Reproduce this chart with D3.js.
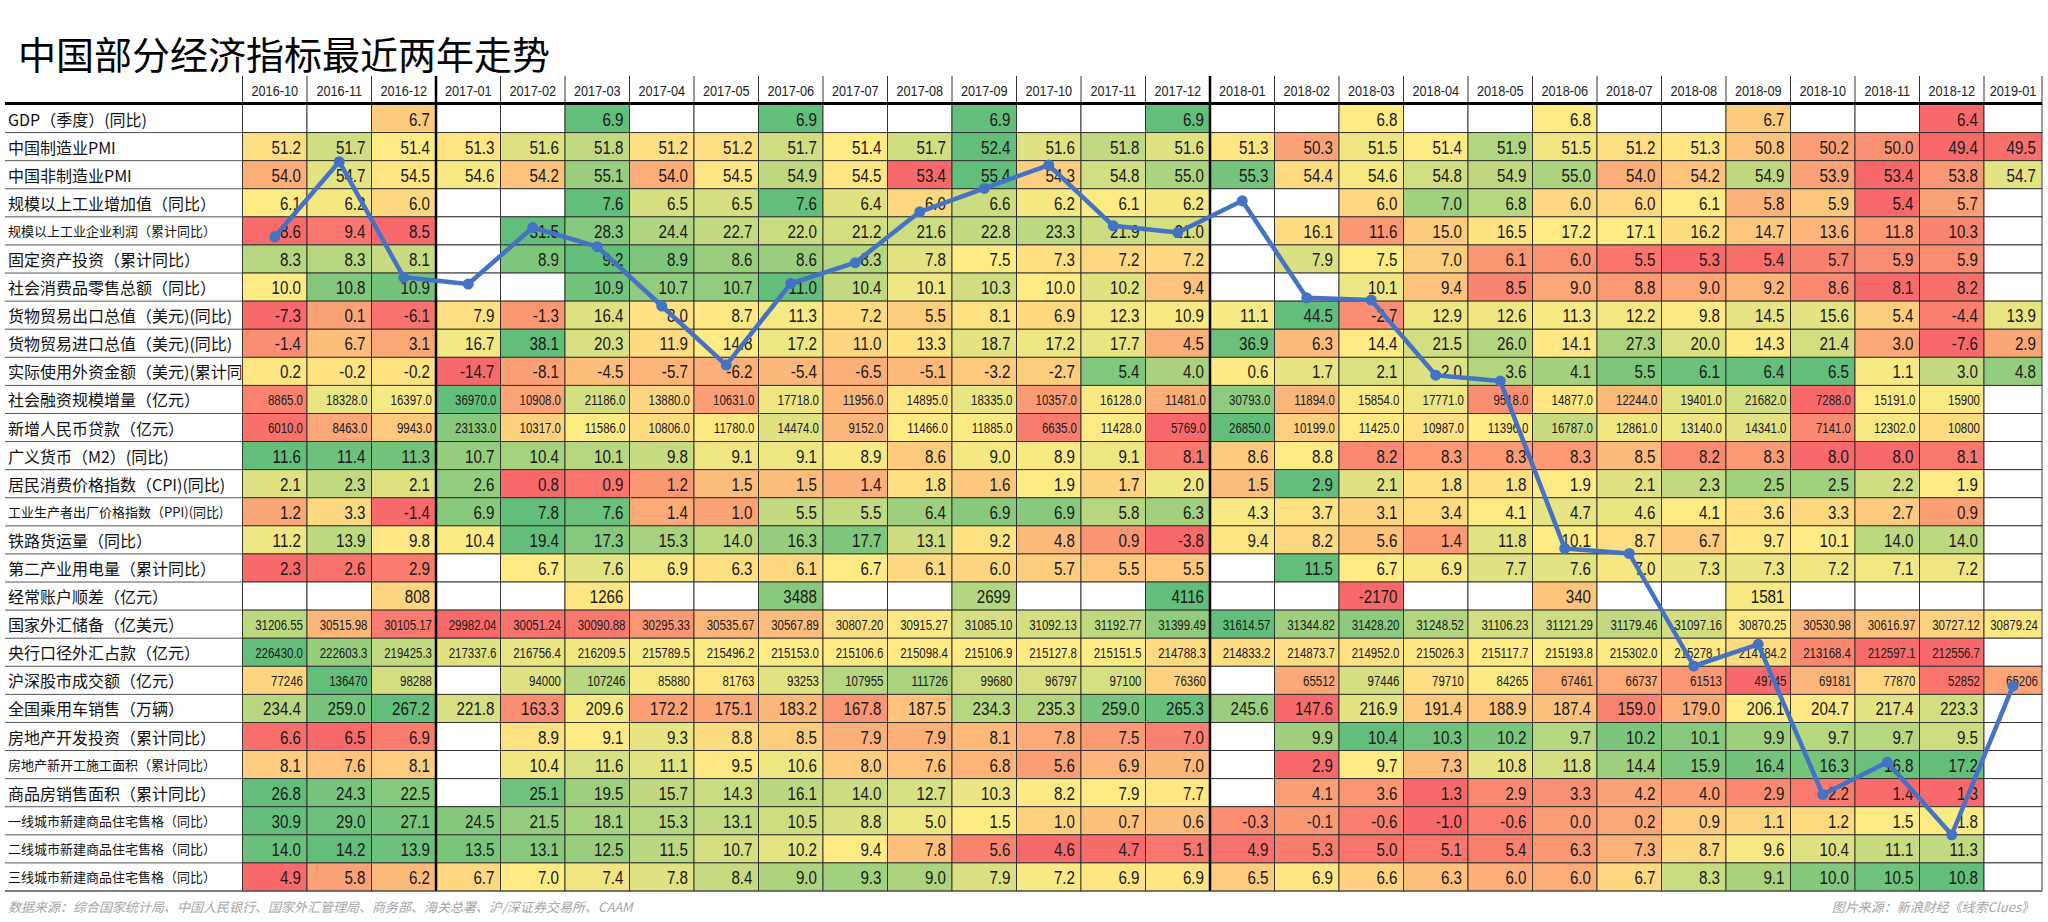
<!DOCTYPE html>
<html>
<head>
<meta charset="utf-8">
<script src="https://cdn.jsdelivr.net/npm/d3@7"></script>
<style>
body { margin: 0; background: #fff; }
svg { display: block; }
</style>
</head>
<body>
<div id="chart"></div>
<script>
// 月份（列）
var months = ["2016-10","2016-11","2016-12","2017-01","2017-02","2017-03","2017-04","2017-05","2017-06","2017-07","2017-08","2017-09","2017-10","2017-11","2017-12",
  "2018-01","2018-02","2018-03","2018-04","2018-05","2018-06","2018-07","2018-08","2018-09","2018-10","2018-11","2018-12","2019-01"];

// 指标（行）
var labels = ["GDP（季度）(同比)","中国制造业PMI","中国非制造业PMI","规模以上工业增加值（同比）","规模以上工业企业利润（累计同比）",
  "固定资产投资（累计同比）","社会消费品零售总额（同比）","货物贸易出口总值（美元)(同比)","货物贸易进口总值（美元)(同比)",
  "实际使用外资金额（美元)(累计同比)","社会融资规模增量（亿元）","新增人民币贷款（亿元）","广义货币（M2）(同比)",
  "居民消费价格指数（CPI)(同比)","工业生产者出厂价格指数（PPI)(同比)","铁路货运量（同比）","第二产业用电量（累计同比）",
  "经常账户顺差（亿元）","国家外汇储备（亿美元）","央行口径外汇占款（亿元）","沪深股市成交额（亿元）","全国乘用车销售（万辆）",
  "房地产开发投资（累计同比）","房地产新开工施工面积（累计同比）","商品房销售面积（累计同比）",
  "一线城市新建商品住宅售格（同比）","二线城市新建商品住宅售格（同比）","三线城市新建商品住宅售格（同比）"];

var smallLabelRows = [4, 14, 23, 25, 26, 27];
var bigNumberRows = [10, 11, 18, 19, 20];

var _ = null;
var gdp      = [_,_,"6.7",_,_,"6.9",_,_,"6.9",_,_,"6.9",_,_,"6.9",_,_,"6.8",_,_,"6.8",_,_,"6.7",_,_,"6.4",_];
var pmi      = ["51.2","51.7","51.4","51.3","51.6","51.8","51.2","51.2","51.7","51.4","51.7","52.4","51.6","51.8","51.6","51.3","50.3","51.5","51.4","51.9","51.5","51.2","51.3","50.8","50.2","50.0","49.4","49.5"];
var nonPmi   = ["54.0","54.7","54.5","54.6","54.2","55.1","54.0","54.5","54.9","54.5","53.4","55.4","54.3","54.8","55.0","55.3","54.4","54.6","54.8","54.9","55.0","54.0","54.2","54.9","53.9","53.4","53.8","54.7"];
var indAdd   = ["6.1","6.2","6.0",_,_,"7.6","6.5","6.5","7.6","6.4","6.0","6.6","6.2","6.1","6.2",_,_,"6.0","7.0","6.8","6.0","6.0","6.1","5.8","5.9","5.4","5.7",_];
var profit   = ["8.6","9.4","8.5",_,"31.5","28.3","24.4","22.7","22.0","21.2","21.6","22.8","23.3","21.9","21.0",_,"16.1","11.6","15.0","16.5","17.2","17.1","16.2","14.7","13.6","11.8","10.3",_];
var fai      = ["8.3","8.3","8.1",_,"8.9","9.2","8.9","8.6","8.6","8.3","7.8","7.5","7.3","7.2","7.2",_,"7.9","7.5","7.0","6.1","6.0","5.5","5.3","5.4","5.7","5.9","5.9",_];
var retail   = ["10.0","10.8","10.9",_,_,"10.9","10.7","10.7","11.0","10.4","10.1","10.3","10.0","10.2","9.4",_,_,"10.1","9.4","8.5","9.0","8.8","9.0","9.2","8.6","8.1","8.2",_];
var exportYoy= ["-7.3","0.1","-6.1","7.9","-1.3","16.4","8.0","8.7","11.3","7.2","5.5","8.1","6.9","12.3","10.9","11.1","44.5","-2.7","12.9","12.6","11.3","12.2","9.8","14.5","15.6","5.4","-4.4","13.9"];
var importYoy= ["-1.4","6.7","3.1","16.7","38.1","20.3","11.9","14.8","17.2","11.0","13.3","18.7","17.2","17.7","4.5","36.9","6.3","14.4","21.5","26.0","14.1","27.3","20.0","14.3","21.4","3.0","-7.6","2.9"];
var fdi      = ["0.2","-0.2","-0.2","-14.7","-8.1","-4.5","-5.7","-6.2","-5.4","-6.5","-5.1","-3.2","-2.7","5.4","4.0","0.6","1.7","2.1","2.0","3.6","4.1","5.5","6.1","6.4","6.5","1.1","3.0","4.8"];
var tsf      = ["8865.0","18328.0","16397.0","36970.0","10908.0","21186.0","13880.0","10631.0","17718.0","11956.0","14895.0","18335.0","10357.0","16128.0","11481.0","30793.0","11894.0","15854.0","17771.0","9518.0","14877.0","12244.0","19401.0","21682.0","7288.0","15191.0","15900",_];
var loans    = ["6010.0","8463.0","9943.0","23133.0","10317.0","11586.0","10806.0","11780.0","14474.0","9152.0","11466.0","11885.0","6635.0","11428.0","5769.0","26850.0","10199.0","11425.0","10987.0","11396.0","16787.0","12861.0","13140.0","14341.0","7141.0","12302.0","10800",_];
var m2       = ["11.6","11.4","11.3","10.7","10.4","10.1","9.8","9.1","9.1","8.9","8.6","9.0","8.9","9.1","8.1","8.6","8.8","8.2","8.3","8.3","8.3","8.5","8.2","8.3","8.0","8.0","8.1",_];
var cpi      = ["2.1","2.3","2.1","2.6","0.8","0.9","1.2","1.5","1.5","1.4","1.8","1.6","1.9","1.7","2.0","1.5","2.9","2.1","1.8","1.8","1.9","2.1","2.3","2.5","2.5","2.2","1.9",_];
var ppi      = ["1.2","3.3","-1.4","6.9","7.8","7.6","1.4","1.0","5.5","5.5","6.4","6.9","6.9","5.8","6.3","4.3","3.7","3.1","3.4","4.1","4.7","4.6","4.1","3.6","3.3","2.7","0.9",_];
var rail     = ["11.2","13.9","9.8","10.4","19.4","17.3","15.3","14.0","16.3","17.7","13.1","9.2","4.8","0.9","-3.8","9.4","8.2","5.6","1.4","11.8","10.1","8.7","6.7","9.7","10.1","14.0","14.0",_];
var power2   = ["2.3","2.6","2.9",_,"6.7","7.6","6.9","6.3","6.1","6.7","6.1","6.0","5.7","5.5","5.5",_,"11.5","6.7","6.9","7.7","7.6","7.0","7.3","7.3","7.2","7.1","7.2",_];
var current  = [_,_,"808",_,_,"1266",_,_,"3488",_,_,"2699",_,_,"4116",_,_,"-2170",_,_,"340",_,_,"1581",_,_,_,_];
var fxReserve= ["31206.55","30515.98","30105.17","29982.04","30051.24","30090.88","30295.33","30535.67","30567.89","30807.20","30915.27","31085.10","31092.13","31192.77","31399.49","31614.57","31344.82","31428.20","31248.52","31106.23","31121.29","31179.46","31097.16","30870.25","30530.98","30616.97","30727.12","30879.24"];
var fxPboc   = ["226430.0","222603.3","219425.3","217337.6","216756.4","216209.5","215789.5","215496.2","215153.0","215106.6","215098.4","215106.9","215127.8","215151.5","214788.3","214833.2","214873.7","214952.0","215026.3","215117.7","215193.8","215302.0","215278.1","214784.2","213168.4","212597.1","212556.7",_];
var turnover = ["77246","136470","98288",_,"94000","107246","85880","81763","93253","107955","111726","99680","96797","97100","76360",_,"65512","97446","79710","84265","67461","66737","61513","49745","69181","77870","52852","65206"];
var cars     = ["234.4","259.0","267.2","221.8","163.3","209.6","172.2","175.1","183.2","167.8","187.5","234.3","235.3","259.0","265.3","245.6","147.6","216.9","191.4","188.9","187.4","159.0","179.0","206.1","204.7","217.4","223.3",_];
var reInvest = ["6.6","6.5","6.9",_,"8.9","9.1","9.3","8.8","8.5","7.9","7.9","8.1","7.8","7.5","7.0",_,"9.9","10.4","10.3","10.2","9.7","10.2","10.1","9.9","9.7","9.7","9.5",_];
var reStarts = ["8.1","7.6","8.1",_,"10.4","11.6","11.1","9.5","10.6","8.0","7.6","6.8","5.6","6.9","7.0",_,"2.9","9.7","7.3","10.8","11.8","14.4","15.9","16.4","16.3","16.8","17.2",_];
var reSales  = ["26.8","24.3","22.5",_,"25.1","19.5","15.7","14.3","16.1","14.0","12.7","10.3","8.2","7.9","7.7",_,"4.1","3.6","1.3","2.9","3.3","4.2","4.0","2.9","2.2","1.4","1.3",_];
var tier1    = ["30.9","29.0","27.1","24.5","21.5","18.1","15.3","13.1","10.5","8.8","5.0","1.5","1.0","0.7","0.6","-0.3","-0.1","-0.6","-1.0","-0.6","0.0","0.2","0.9","1.1","1.2","1.5","1.8",_];
var tier2    = ["14.0","14.2","13.9","13.5","13.1","12.5","11.5","10.7","10.2","9.4","7.8","5.6","4.6","4.7","5.1","4.9","5.3","5.0","5.1","5.4","6.3","7.3","8.7","9.6","10.4","11.1","11.3",_];
var tier3    = ["4.9","5.8","6.2","6.7","7.0","7.4","7.8","8.4","9.0","9.3","9.0","7.9","7.2","6.9","6.9","6.5","6.9","6.6","6.3","6.0","6.0","6.7","8.3","9.1","10.0","10.5","10.8",_];

var table = [gdp,pmi,nonPmi,indAdd,profit,fai,retail,exportYoy,importYoy,fdi,tsf,loans,m2,cpi,ppi,rail,power2,
  current,fxReserve,fxPboc,turnover,cars,reInvest,reStarts,reSales,tier1,tier2,tier3];

// 蓝色折线（以行为单位的位置）
var trend = [4.74,2.07,6.18,6.42,4.41,5.09,7.20,9.30,6.40,5.66,3.85,3.02,2.19,4.35,4.59,
  3.46,6.91,6.99,9.66,9.87,15.82,16.0,20.0,19.23,24.57,23.42,26.0,20.71];

var w = 2048, h = 922;
var tLeft = 242.5, tRight = 2042, tTop = 104.5, tBottom = 891;
var narrow = 0.82; // 模拟窄体数字
var numFont = '"Liberation Sans",Arial,sans-serif';
var cjkFont = '"Noto Sans CJK SC","Noto Sans",sans-serif';

var svg = d3.select("#chart").append("svg").attr("width", w).attr("height", h)
  .style("background", "#fff");

var x = d3.scaleBand().domain(months).range([tLeft, tLeft + 64.5 * months.length]);
var y = d3.scaleBand().domain(d3.range(labels.length)).range([tTop, tBottom]);
var yTrend = d3.scaleLinear().domain([0, labels.length]).range([tTop - 1, tBottom]);

function colW(m) { return Math.min(x.bandwidth(), tRight - x(m)); }

// 标题
svg.append("text").attr("x", 18).attr("y", 52).attr("dominant-baseline", "central")
  .style("font-family", cjkFont).style("font-size", "38px").style("fill", "#000")
  .text("中国部分经济指标最近两年走势");

// 表头
var head = svg.append("g");
head.selectAll("line").data(months).enter().append("line")
  .attr("x1", function(d) { return x(d); }).attr("x2", function(d) { return x(d); })
  .attr("y1", 76).attr("y2", tTop).style("stroke", "#333").style("stroke-width", 1);
head.append("line").attr("x1", tRight).attr("x2", tRight).attr("y1", 76).attr("y2", tTop)
  .style("stroke", "#333");
head.selectAll("text").data(months).enter().append("text")
  .attr("transform", function(d) {
    return "translate(" + (x(d) + colW(d) / 2) + ",91) scale(" + narrow + ",1)";
  })
  .attr("text-anchor", "middle").attr("dominant-baseline", "central")
  .style("font-family", numFont).style("font-size", "15.5px").style("fill", "#222")
  .text(function(d) { return d; });

// 每行的颜色（红-黄-绿三色刻度）
var colorScales = table.map(function(row) {
  var v = row.filter(function(d) { return d != null; }).map(Number).sort(d3.ascending);
  return d3.scaleLinear()
    .domain([v[0], d3.quantile(v, 0.5), v[v.length - 1]])
    .range(["#F8696B", "#FFEB84", "#63BE7B"]);
});

var cells = [];
table.forEach(function(row, i) {
  row.forEach(function(d, j) { cells.push({ r: i, m: months[j], v: d }); });
});

var body = svg.append("g");
body.selectAll("rect").data(cells).enter().append("rect")
  .attr("x", function(d) { return x(d.m); })
  .attr("y", function(d) { return y(d.r); })
  .attr("width", function(d) { return colW(d.m); })
  .attr("height", y.bandwidth())
  .style("fill", function(d) { return d.v == null ? "#fff" : colorScales[d.r](+d.v); })
  .style("stroke", "#2b2b2b").style("stroke-width", 0.9);

body.selectAll("text").data(cells.filter(function(d) { return d.v != null; })).enter().append("text")
  .attr("transform", function(d) {
    var big = bigNumberRows.indexOf(d.r) >= 0;
    return "translate(" + (x(d.m) + colW(d.m) - (big ? 4 : 6)) + "," +
      (y(d.r) + y.bandwidth() / 2 + 1) + ") scale(" + narrow + ",1)";
  })
  .attr("text-anchor", "end").attr("dominant-baseline", "central")
  .style("font-family", numFont)
  .style("font-size", function(d) { return bigNumberRows.indexOf(d.r) >= 0 ? "14px" : "18.5px"; })
  .style("fill", "#1a1a1a")
  .text(function(d) { return d.v; });

// 行标签
svg.append("clipPath").attr("id", "labclip").append("rect")
  .attr("x", 0).attr("y", tTop).attr("width", tLeft - 1).attr("height", tBottom - tTop);
var lab = svg.append("g");
lab.selectAll("line").data(d3.range(labels.length + 1)).enter().append("line")
  .attr("x1", 5).attr("x2", tLeft)
  .attr("y1", function(d) { return tTop + d * y.step(); })
  .attr("y2", function(d) { return tTop + d * y.step(); })
  .style("stroke", "#555").style("stroke-width", 1);
lab.append("g").attr("clip-path", "url(#labclip)")
  .selectAll("text").data(labels).enter().append("text")
  .attr("x", 8).attr("y", function(d, i) { return y(i) + y.bandwidth() / 2; })
  .attr("dominant-baseline", "central")
  .style("font-family", cjkFont)
  .style("font-size", function(d, i) { return smallLabelRows.indexOf(i) >= 0 ? "13px" : "16px"; })
  .style("fill", "#111")
  .text(function(d) { return d; });

// 粗线：表头下方与年份分隔
svg.append("line").attr("x1", 5).attr("x2", tRight).attr("y1", tTop - 1).attr("y2", tTop - 1)
  .style("stroke", "#000").style("stroke-width", 3);
svg.selectAll(".yearline").data(["2017-01", "2018-01"]).enter().append("line")
  .attr("class", "yearline")
  .attr("x1", function(d) { return x(d); }).attr("x2", function(d) { return x(d); })
  .attr("y1", 76).attr("y2", tBottom)
  .style("stroke", "#000").style("stroke-width", 2.5);
svg.append("line").attr("x1", 5).attr("x2", tRight).attr("y1", tBottom).attr("y2", tBottom)
  .style("stroke", "#555").style("stroke-width", 1);

// 折线
var pts = trend.map(function(v, i) { return [x(months[i]) + colW(months[i]) / 2, yTrend(v)]; });
svg.append("path").datum(pts)
  .attr("d", d3.line())
  .style("fill", "none").style("stroke", "#4472C4").style("stroke-width", 4.5)
  .style("stroke-linejoin", "round");
svg.selectAll(".dot").data(pts).enter().append("circle").attr("class", "dot")
  .attr("cx", function(d) { return d[0]; }).attr("cy", function(d) { return d[1]; })
  .attr("r", 5.5).style("fill", "#4472C4");

// 脚注
svg.append("text").attr("x", 8).attr("y", 906).attr("dominant-baseline", "central")
  .style("font-family", cjkFont).style("font-size", "13px").style("font-style", "italic")
  .style("fill", "#a6a6a6")
  .text("数据来源：综合国家统计局、中国人民银行、国家外汇管理局、商务部、海关总署、沪/深证券交易所、CAAM");
svg.append("text").attr("x", 2034).attr("y", 906).attr("dominant-baseline", "central")
  .attr("text-anchor", "end")
  .style("font-family", cjkFont).style("font-size", "13px").style("font-style", "italic")
  .style("fill", "#a6a6a6")
  .text("图片来源：新浪财经《线索Clues》");
</script>
</body>
</html>
